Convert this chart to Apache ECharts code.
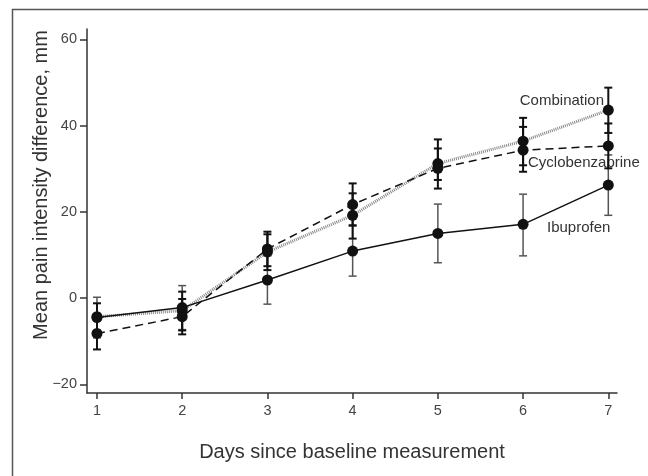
<!DOCTYPE html>
<html>
<head>
<meta charset="utf-8">
<script src="https://cdn.jsdelivr.net/npm/echarts@6/dist/echarts.min.js"></script>
<style>
html,body{margin:0;padding:0;background:#fff;}
#chart{width:648px;height:476px;}
</style>
</head>
<body>
<div id="chart"></div>
<script>
// ---- data ----
const days = [1, 2, 3, 4, 5, 6, 7];
const xTicks = [1, 2, 3, 4, 5, 6, 7];
const yTicks = [-20, 0, 20, 40, 60];

const ibuprofen     = [-4.5, -2.2, 4.2, 10.9, 15.0, 17.1, 26.2];
const ibuprofenLow  = [-9.2, -7.3, -1.4, 5.1, 8.2, 9.8, 19.2];
const ibuprofenHigh = [0.2, 2.9, 9.8, 16.7, 21.8, 24.1, 33.2];

const cyclo     = [-8.2, -4.3, 11.4, 21.7, 30.1, 34.3, 35.3];
const cycloLow  = [-11.9, -8.4, 7.4, 16.9, 25.4, 29.3, 30.1];
const cycloHigh = [-4.5, -0.2, 15.4, 26.6, 34.7, 39.7, 40.5];

const combo     = [-4.3, -2.9, 10.7, 19.2, 31.2, 36.4, 43.6];
const comboLow  = [-7.8, -7.5, 6.5, 13.8, 27.4, 30.8, 38.3];
const comboHigh = [-1.2, 1.5, 14.8, 24.3, 36.8, 41.8, 48.8];

const seriesNames = ['Ibuprofen', 'Cyclobenzaprine', 'Combination'];
const xName = 'Days since baseline measurement';
const yName = 'Mean pain intensity difference, mm';

// ---- helpers ----
const FONT = '"Liberation Sans", Arial, Helvetica, sans-serif';

function errRender(color, width) {
  return function (params, api) {
    const x = api.value(0);
    const pHi = api.coord([x, api.value(2)]);
    const pLo = api.coord([x, api.value(1)]);
    const w = 4;
    const st = { stroke: color, lineWidth: width };
    return {
      type: 'group',
      children: [
        { type: 'line', shape: { x1: pHi[0], y1: pHi[1], x2: pLo[0], y2: pLo[1] }, style: st },
        { type: 'line', shape: { x1: pHi[0] - w, y1: pHi[1], x2: pHi[0] + w, y2: pHi[1] }, style: st },
        { type: 'line', shape: { x1: pLo[0] - w, y1: pLo[1], x2: pLo[0] + w, y2: pLo[1] }, style: st }
      ]
    };
  };
}
function pairs(vals) { return days.map((d, i) => [d, vals[i]]); }
function triples(lo, hi) { return days.map((d, i) => [d, lo[i], hi[i]]); }

const chart = echarts.init(document.getElementById('chart'), null, { renderer: 'canvas' });

const option = {
  animation: false,
  backgroundColor: '#fff',
  grid: { left: 87, right: 31, top: 29, bottom: 83, containLabel: false, outerBoundsMode: 'none' },
  xAxis: {
    type: 'value',
    min: 0.883,
    max: 7.102,
    axisLine: { show: true, onZero: false, lineStyle: { color: '#333', width: 1.5 } },
    axisTick: { show: true, length: 6, customValues: xTicks, lineStyle: { color: '#333', width: 1.5 } },
    axisLabel: { customValues: xTicks, margin: 10, color: '#444', fontSize: 14.5, fontFamily: FONT },
    splitLine: { show: false }
  },
  yAxis: {
    type: 'value',
    min: -22,
    max: 62.4,
    axisLine: { show: true, onZero: false, lineStyle: { color: '#333', width: 1.5 } },
    axisTick: { show: true, length: 7, customValues: yTicks, lineStyle: { color: '#333', width: 1.5 } },
    axisLabel: {
      customValues: yTicks, margin: 10, color: '#444', fontSize: 14.5, fontFamily: FONT,
      formatter: v => (v < 0 ? '\u2212' + Math.abs(v) : String(v))
    },
    splitLine: { show: false }
  },
  graphic: [
    { type: 'rect', silent: true, z: 0,
      shape: { x: 12.5, y: 9.5, width: 700, height: 600 },
      style: { fill: 'none', stroke: '#555', lineWidth: 1.5 } },
    { type: 'text', silent: true, x: 352, y: 452,
      style: { text: xName, fill: '#333', font: '20px ' + FONT, textAlign: 'center', textVerticalAlign: 'middle' } },
    { type: 'text', silent: true, x: 41, y: 185, rotation: Math.PI / 2,
      style: { text: yName, fill: '#333', font: '20px ' + FONT, textAlign: 'center', textVerticalAlign: 'middle' } },
    { type: 'text', silent: true, x: 604, y: 101,
      style: { text: seriesNames[2], fill: '#333', font: '15px ' + FONT, textAlign: 'right', textVerticalAlign: 'middle' } },
    { type: 'text', silent: true, x: 528, y: 163,
      style: { text: seriesNames[1], fill: '#333', font: '15px ' + FONT, textAlign: 'left', textVerticalAlign: 'middle' } },
    { type: 'text', silent: true, x: 547, y: 228,
      style: { text: seriesNames[0], fill: '#333', font: '15px ' + FONT, textAlign: 'left', textVerticalAlign: 'middle' } }
  ],
  series: [
    { type: 'custom', name: seriesNames[0] + ' SE', renderItem: errRender('#555', 1.5),
      data: triples(ibuprofenLow, ibuprofenHigh), encode: { x: 0, y: [1, 2] }, z: 2 },
    { type: 'custom', name: seriesNames[1] + ' SE', renderItem: errRender('#111', 2),
      data: triples(cycloLow, cycloHigh), encode: { x: 0, y: [1, 2] }, z: 2 },
    { type: 'custom', name: seriesNames[2] + ' SE', renderItem: errRender('#111', 2),
      data: triples(comboLow, comboHigh), encode: { x: 0, y: [1, 2] }, z: 2 },
    { type: 'line', name: seriesNames[2], data: pairs(combo), z: 3,
      symbol: 'circle', symbolSize: 11, showSymbol: true,
      itemStyle: { color: '#111' },
      lineStyle: { color: '#888', width: 3, type: [1, 1] } },
    { type: 'line', name: seriesNames[1], data: pairs(cyclo), z: 4,
      symbol: 'circle', symbolSize: 11,
      itemStyle: { color: '#111' },
      lineStyle: { color: '#111', width: 1.5, type: [8, 5] } },
    { type: 'line', name: seriesNames[0], data: pairs(ibuprofen), z: 5,
      symbol: 'circle', symbolSize: 11,
      itemStyle: { color: '#111' },
      lineStyle: { color: '#111', width: 1.5, type: 'solid' } }
  ]
};
chart.setOption(option);
</script>
</body>
</html>
